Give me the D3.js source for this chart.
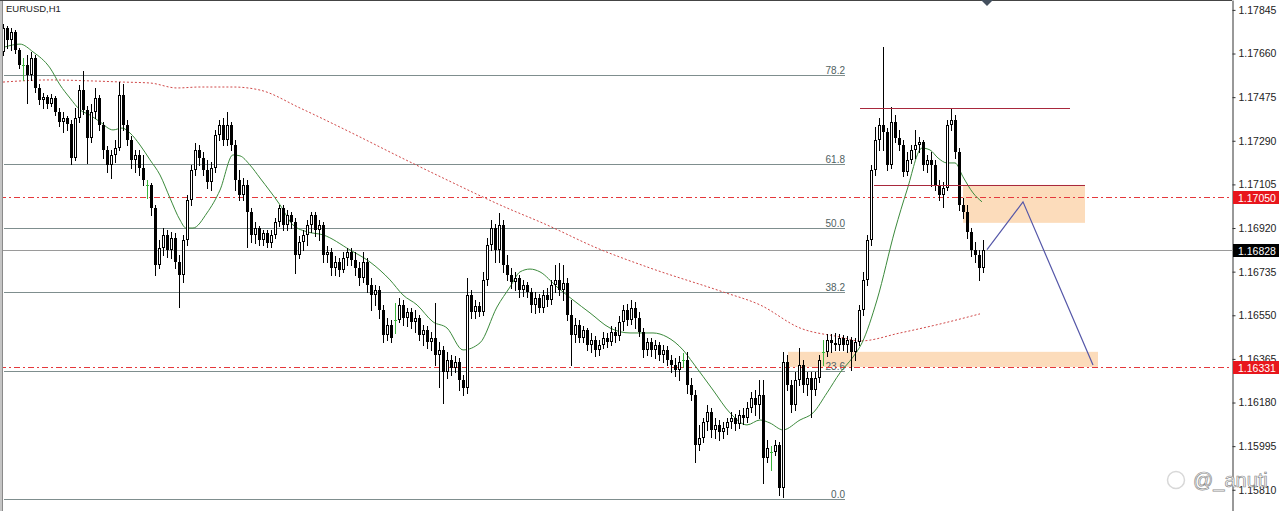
<!DOCTYPE html>
<html>
<head>
<meta charset="utf-8">
<script src="https://cdn.jsdelivr.net/npm/d3@7"></script>
<style>
  html, body { margin: 0; padding: 0; background: #fff; }
  svg { display: block; font-family: "Liberation Sans", Arial, sans-serif; }
</style>
</head>
<body>
<div id="chart"></div>
<script>
// EURUSD H1 candles (one row = 10 bars)
const opens = [
  1.17667,1.17768,1.17717,1.17751,1.17675,1.17611,1.17611,1.17569,1.17641,1.17514,
  1.17463,1.17476,1.17446,1.17471,1.17412,1.17370,1.17387,1.17361,1.17217,1.17387,
  1.17505,1.17421,1.17302,1.17412,1.17471,1.17357,1.17251,1.17187,1.17230,1.17259,
  1.17484,1.17357,1.17293,1.17209,1.17230,1.17175,1.17103,1.17103,1.17005,1.16763,
  1.16835,1.16891,1.16827,1.16878,1.16776,1.16721,1.16869,1.17039,1.17166,1.17251,
  1.17217,1.17166,1.17115,1.17175,1.17315,1.17357,1.17293,1.17357,1.17272,1.17124,
  1.17060,1.17103,1.16988,1.16891,1.16920,1.16869,1.16899,1.16857,1.16891,1.16946,
  1.17005,1.16933,1.16975,1.16946,1.16806,1.16861,1.16891,1.16933,1.16975,1.16912,
  1.16933,1.16806,1.16819,1.16751,1.16776,1.16742,1.16793,1.16819,1.16785,1.16751,
  1.16708,1.16776,1.16679,1.16636,1.16657,1.16573,1.16467,1.16509,1.16530,1.16530,
  1.16594,1.16539,1.16564,1.16522,1.16539,1.16467,1.16488,1.16437,1.16454,1.16382,
  1.16403,1.16310,1.16361,1.16327,1.16352,1.16276,1.16242,1.16636,1.16564,1.16590,
  1.16564,1.16700,1.16848,1.16920,1.16827,1.16933,1.16763,1.16721,1.16691,1.16708,
  1.16657,1.16679,1.16649,1.16594,1.16623,1.16581,1.16636,1.16615,1.16679,1.16700,
  1.16657,1.16687,1.16551,1.16467,1.16509,1.16454,1.16488,1.16424,1.16445,1.16403,
  1.16424,1.16454,1.16437,1.16479,1.16462,1.16522,1.16573,1.16530,1.16581,1.16539,
  1.16479,1.16403,1.16437,1.16403,1.16424,1.16382,1.16403,1.16361,1.16339,1.16318,
  1.16361,1.16361,1.16255,1.16212,1.16000,1.16030,1.16098,1.16140,1.16064,1.16085,
  1.16055,1.16072,1.16098,1.16115,1.16089,1.16127,1.16115,1.16157,1.16199,1.16170,
  1.16212,1.15945,1.15971,1.15971,1.16000,1.15818,1.16352,1.16255,1.16170,1.16276,
  1.16339,1.16255,1.16284,1.16233,1.16284,1.16395,1.16395,1.16445,1.16433,1.16424,
  1.16454,1.16424,1.16445,1.16395,1.16437,1.16573,1.16700,1.16869,1.17166,1.17293,
  1.17357,1.17327,1.17187,1.17370,1.17302,1.17272,1.17158,1.17209,1.17251,1.17272,
  1.17285,1.17187,1.17209,1.17187,1.17103,1.17060,1.17090,1.17357,1.17378,1.17243,
  1.17018,1.16988,1.16903,1.16827,1.16806,1.16751
];
const highs = [
  1.17785,1.17777,1.17768,1.17760,1.17683,1.17641,1.17654,1.17667,1.17654,1.17531,
  1.17493,1.17484,1.17488,1.17480,1.17429,1.17412,1.17395,1.17378,1.17429,1.17527,
  1.17586,1.17438,1.17446,1.17514,1.17484,1.17370,1.17268,1.17251,1.17293,1.17539,
  1.17531,1.17378,1.17310,1.17251,1.17251,1.17230,1.17124,1.17110,1.17018,1.16869,
  1.16920,1.16912,1.16903,1.16899,1.16806,1.16891,1.17060,1.17187,1.17281,1.17272,
  1.17243,1.17209,1.17200,1.17336,1.17378,1.17387,1.17412,1.17370,1.17293,1.17166,
  1.17132,1.17124,1.17005,1.16946,1.16929,1.16912,1.16912,1.16912,1.16963,1.17018,
  1.17018,1.16997,1.16988,1.16963,1.16886,1.16912,1.16954,1.16988,1.16988,1.16954,
  1.16946,1.16844,1.16835,1.16802,1.16793,1.16819,1.16835,1.16835,1.16819,1.16776,
  1.16819,1.16793,1.16708,1.16679,1.16674,1.16594,1.16539,1.16530,1.16602,1.16623,
  1.16615,1.16581,1.16581,1.16573,1.16551,1.16509,1.16505,1.16479,1.16602,1.16437,
  1.16420,1.16395,1.16382,1.16378,1.16369,1.16297,1.16708,1.16657,1.16615,1.16607,
  1.16734,1.16878,1.16954,1.16937,1.16984,1.16954,1.16806,1.16751,1.16734,1.16721,
  1.16700,1.16691,1.16666,1.16649,1.16640,1.16657,1.16666,1.16700,1.16763,1.16772,
  1.16763,1.16708,1.16615,1.16539,1.16530,1.16505,1.16496,1.16475,1.16462,1.16445,
  1.16479,1.16475,1.16505,1.16501,1.16547,1.16594,1.16598,1.16615,1.16607,1.16564,
  1.16496,1.16454,1.16454,1.16445,1.16437,1.16424,1.16420,1.16382,1.16369,1.16378,
  1.16390,1.16395,1.16284,1.16233,1.16085,1.16115,1.16170,1.16157,1.16115,1.16106,
  1.16098,1.16115,1.16140,1.16132,1.16149,1.16157,1.16183,1.16225,1.16233,1.16276,
  1.16276,1.16021,1.15996,1.16021,1.16013,1.16395,1.16382,1.16276,1.16310,1.16411,
  1.16361,1.16310,1.16310,1.16310,1.16382,1.16445,1.16471,1.16471,1.16475,1.16471,
  1.16467,1.16462,1.16458,1.16454,1.16594,1.16734,1.16891,1.17187,1.17349,1.17387,
  1.17688,1.17344,1.17433,1.17399,1.17336,1.17293,1.17243,1.17272,1.17336,1.17306,
  1.17293,1.17230,1.17243,1.17209,1.17124,1.17115,1.17378,1.17429,1.17399,1.17259,
  1.17047,1.17018,1.16920,1.16861,1.16827,1.16869
];
const lows = [
  1.17654,1.17683,1.17675,1.17662,1.17599,1.17548,1.17450,1.17548,1.17497,1.17446,
  1.17429,1.17429,1.17438,1.17399,1.17353,1.17327,1.17336,1.17192,1.17209,1.17370,
  1.17404,1.17196,1.17285,1.17387,1.17336,1.17217,1.17158,1.17132,1.17200,1.17251,
  1.17336,1.17272,1.17175,1.17158,1.17145,1.17103,1.17047,1.16975,1.16721,1.16751,
  1.16806,1.16797,1.16793,1.16751,1.16585,1.16691,1.16848,1.17018,1.17145,1.17187,
  1.17145,1.17090,1.17081,1.17158,1.17293,1.17272,1.17272,1.17251,1.17081,1.17039,
  1.17039,1.16840,1.16861,1.16857,1.16848,1.16848,1.16840,1.16840,1.16878,1.16929,
  1.16912,1.16912,1.16920,1.16729,1.16793,1.16827,1.16848,1.16903,1.16886,1.16869,
  1.16776,1.16776,1.16721,1.16721,1.16717,1.16734,1.16763,1.16763,1.16721,1.16679,
  1.16691,1.16649,1.16573,1.16594,1.16539,1.16437,1.16445,1.16437,1.16475,1.16522,
  1.16509,1.16505,1.16496,1.16479,1.16445,1.16424,1.16411,1.16403,1.16339,1.16246,
  1.16178,1.16284,1.16297,1.16310,1.16233,1.16212,1.16221,1.16539,1.16539,1.16547,
  1.16551,1.16679,1.16827,1.16776,1.16776,1.16734,1.16700,1.16666,1.16657,1.16628,
  1.16632,1.16628,1.16564,1.16560,1.16564,1.16564,1.16590,1.16598,1.16649,1.16636,
  1.16615,1.16530,1.16339,1.16437,1.16437,1.16437,1.16403,1.16395,1.16378,1.16382,
  1.16411,1.16416,1.16424,1.16437,1.16445,1.16488,1.16509,1.16513,1.16496,1.16462,
  1.16373,1.16382,1.16378,1.16369,1.16361,1.16352,1.16339,1.16310,1.16293,1.16276,
  1.16331,1.16221,1.16191,1.15928,1.15979,1.16013,1.16064,1.16034,1.16030,1.16021,
  1.16030,1.16047,1.16072,1.16064,1.16072,1.16089,1.16098,1.16140,1.16127,1.16115,
  1.15839,1.15928,1.15894,1.15958,1.15788,1.15780,1.16233,1.16140,1.16149,1.16255,
  1.16225,1.16212,1.16119,1.16212,1.16267,1.16339,1.16378,1.16395,1.16403,1.16403,
  1.16403,1.16395,1.16318,1.16361,1.16424,1.16551,1.16679,1.16848,1.17145,1.17251,
  1.17251,1.17166,1.17175,1.17285,1.17251,1.17141,1.17145,1.17196,1.17217,1.17243,
  1.17166,1.17158,1.17098,1.17081,1.17039,1.17009,1.17081,1.17336,1.17217,1.16997,
  1.16963,1.16878,1.16802,1.16776,1.16700,1.16734
];
const closes = [
  1.17768,1.17717,1.17751,1.17675,1.17611,1.17611,1.17569,1.17641,1.17514,1.17463,
  1.17476,1.17446,1.17471,1.17412,1.17370,1.17387,1.17361,1.17217,1.17387,1.17505,
  1.17421,1.17302,1.17412,1.17471,1.17357,1.17251,1.17187,1.17230,1.17259,1.17484,
  1.17357,1.17293,1.17209,1.17230,1.17175,1.17124,1.17103,1.17005,1.16763,1.16835,
  1.16891,1.16827,1.16878,1.16776,1.16721,1.16869,1.17039,1.17166,1.17251,1.17217,
  1.17166,1.17115,1.17175,1.17315,1.17357,1.17293,1.17357,1.17272,1.17124,1.17060,
  1.17103,1.16988,1.16891,1.16920,1.16869,1.16899,1.16857,1.16891,1.16946,1.17005,
  1.16933,1.16975,1.16946,1.16806,1.16861,1.16891,1.16933,1.16975,1.16912,1.16933,
  1.16806,1.16819,1.16751,1.16776,1.16742,1.16793,1.16819,1.16785,1.16751,1.16708,
  1.16776,1.16679,1.16636,1.16657,1.16573,1.16467,1.16509,1.16454,1.16530,1.16594,
  1.16539,1.16564,1.16522,1.16539,1.16467,1.16488,1.16437,1.16454,1.16382,1.16403,
  1.16310,1.16361,1.16327,1.16352,1.16276,1.16242,1.16636,1.16564,1.16590,1.16564,
  1.16700,1.16848,1.16920,1.16827,1.16933,1.16763,1.16721,1.16691,1.16708,1.16657,
  1.16679,1.16649,1.16594,1.16623,1.16581,1.16636,1.16615,1.16679,1.16700,1.16657,
  1.16687,1.16551,1.16467,1.16509,1.16454,1.16488,1.16424,1.16445,1.16403,1.16424,
  1.16454,1.16437,1.16479,1.16462,1.16522,1.16573,1.16530,1.16581,1.16539,1.16479,
  1.16403,1.16437,1.16403,1.16424,1.16382,1.16403,1.16361,1.16339,1.16318,1.16352,
  1.16361,1.16255,1.16212,1.16000,1.16030,1.16098,1.16140,1.16064,1.16085,1.16055,
  1.16072,1.16098,1.16115,1.16089,1.16127,1.16115,1.16157,1.16199,1.16170,1.16212,
  1.15945,1.15987,1.15971,1.16000,1.15818,1.16352,1.16255,1.16170,1.16276,1.16339,
  1.16255,1.16284,1.16233,1.16284,1.16361,1.16395,1.16445,1.16433,1.16424,1.16454,
  1.16424,1.16445,1.16395,1.16437,1.16573,1.16700,1.16869,1.17166,1.17293,1.17357,
  1.17327,1.17187,1.17370,1.17302,1.17272,1.17158,1.17209,1.17251,1.17272,1.17285,
  1.17187,1.17209,1.17187,1.17103,1.17060,1.17090,1.17357,1.17378,1.17243,1.17018,
  1.16988,1.16903,1.16827,1.16806,1.16751,1.16828
];

// moving averages: [bar index, price]
const maFast = [
  [0.5,1.17688],[4.25,1.17700],[7.5,1.17667],[11.75,1.17599],[14.25,1.17527],[16.75,1.17471],
  [19.25,1.17421],[21.75,1.17399],[24.25,1.17370],[27.5,1.17336],[29.75,1.17344],[31.75,1.17323],
  [34.25,1.17272],[36.75,1.17209],[39.25,1.17145],[41.75,1.17047],[44.25,1.16954],[45.75,1.16920],
  [47.5,1.16920],[51,1.16984],[54.25,1.17081],[57.5,1.17230],[59.25,1.17226],[61.75,1.17187],
  [64.25,1.17132],[69.25,1.17018],[72.5,1.16933],[76.25,1.16903],[80,1.16891],[86.75,1.16827],
  [91.75,1.16776],[96.75,1.16700],[100,1.16636],[103.5,1.16594],[107.5,1.16522],[111,1.16496],
  [115,1.16403],[119.25,1.16433],[123.5,1.16585],[126.75,1.16670],[129.25,1.16734],[131.75,1.16746],
  [134.25,1.16734],[138.5,1.16670],[142.5,1.16615],[146.75,1.16560],[151.75,1.16496],[156.75,1.16475],
  [162.5,1.16475],[166,1.16458],[170,1.16403],[172.5,1.16348],[177.5,1.16233],[181.75,1.16136],
  [186,1.16085],[189.25,1.16106],[191.75,1.16093],[195,1.16064],[199.25,1.16106],[202.5,1.16136],
  [206,1.16221],[209.25,1.16306],[212.5,1.16373],[214.75,1.16433],[218.5,1.16615],[223,1.16912],
  [226,1.17081],[229.75,1.17259],[231.75,1.17251],[233.75,1.17217],[236,1.17196],[238,1.17196],
  [240,1.17137],[242.5,1.17069],[244.75,1.17031]
];
const maSlow = [
  [0,1.17539],[11.75,1.17548],[21.75,1.17544],[30,1.17539],[36.75,1.17535],[43.5,1.17514],
  [49.25,1.17518],[57.5,1.17518],[64.25,1.17505],[74.25,1.17429],[86.75,1.17327],[99.25,1.17221],
  [111,1.17124],[124.25,1.17018],[136,1.16933],[148.5,1.16835],[161,1.16755],[180,1.16649],
  [189.25,1.16594],[199.25,1.16496],[209.25,1.16458],[214.25,1.16441],[224.25,1.16475],
  [234.25,1.16513],[244.25,1.16556]
];

// price axis
const priceTicks = [1.17845,1.17660,1.17475,1.17290,1.17105,1.16920,1.16735,1.16550,1.16365,1.16180,1.15995,1.15810];
const priceRange = [1.15720, 1.17887];

// fibonacci retracement
const fibLevels = [0, 23.6, 38.2, 50.0, 61.8, 78.2];
const fibRange = [1.15771, 1.18069];
const fibBars = [0.25, 210.5];

// horizontal levels + price tags
const tagPrices = [1.17050, 1.16828, 1.16331];
const tagKinds = ["red", "last", "red"];

// drawn objects (bar index / price)
const zones = [
  {from: 240, to: 270.5, top: 1.17103, bottom: 1.16942},
  {from: 196.25, to: 273.75, top: 1.16395, bottom: 1.16331}
];
const resistLines = [
  {from: 214.25, to: 266.75, price: 1.17429},
  {from: 217.75, to: 270.5, price: 1.17103}
];
const projection = [[246, 1.16828], [255, 1.17031], [272.5, 1.16339]];

const width = 1280, height = 511, axisX = 1232;

const svg = d3.select("#chart").append("svg")
  .attr("width", width)
  .attr("height", height);

svg.append("rect").attr("width", width).attr("height", height).attr("fill", "#fff");

const x = d3.scaleLinear().domain([0, closes.length - 1]).range([3, 983]);
const y = d3.scaleLinear().domain(priceRange).range([height, 0]);

svg.append("clipPath").attr("id", "plot")
  .append("rect").attr("x", 0).attr("y", 0).attr("width", axisX).attr("height", height);
const plot = svg.append("g").attr("clip-path", "url(#plot)");

// zones
plot.selectAll("rect.zone")
  .data(zones)
  .join("rect")
    .attr("class", "zone")
    .attr("x", d => x(d.from))
    .attr("width", d => x(d.to) - x(d.from))
    .attr("y", d => y(d.top))
    .attr("height", d => y(d.bottom) - y(d.top))
    .attr("fill", "#fcdcbb");

// fibo lines
const fibPrice = lvl => fibRange[0] + (fibRange[1] - fibRange[0]) * lvl / 100;
const fibG = plot.append("g");
fibG.selectAll("line")
  .data(fibLevels)
  .join("line")
    .attr("x1", x(fibBars[0])).attr("x2", x(fibBars[1]))
    .attr("y1", d => Math.round(y(fibPrice(d))) + 0.5)
    .attr("y2", d => Math.round(y(fibPrice(d))) + 0.5)
    .attr("stroke", "#7f8e8e")
    .attr("stroke-width", 1);
fibG.selectAll("text")
  .data(fibLevels)
  .join("text")
    .attr("x", x(fibBars[1]))
    .attr("y", d => Math.round(y(fibPrice(d))) - 1.5)
    .attr("text-anchor", "end")
    .style("font-size", "10px")
    .style("fill", "#506262")
    .text(d => d.toFixed(1));

// current price line
plot.append("line")
  .attr("x1", 0).attr("x2", axisX)
  .attr("y1", Math.round(y(tagPrices[1])) + 0.5)
  .attr("y2", Math.round(y(tagPrices[1])) + 0.5)
  .attr("stroke", "#9a9a9a");

// red dash-dot levels
plot.selectAll("line.lvl")
  .data(tagPrices.filter((p, i) => tagKinds[i] === "red"))
  .join("line")
    .attr("class", "lvl")
    .attr("x1", 0).attr("x2", axisX)
    .attr("y1", d => Math.round(y(d)) + 0.5)
    .attr("y2", d => Math.round(y(d)) + 0.5)
    .attr("stroke", "#e5393c")
    .attr("stroke-dasharray", "6,3,2,3");

// moving averages
const maLine = d3.line().x(d => x(d[0])).y(d => y(d[1])).curve(d3.curveMonotoneX);
plot.append("path").datum(maSlow)
  .attr("d", maLine)
  .attr("fill", "none")
  .attr("stroke", "#d04848")
  .attr("stroke-width", 1)
  .attr("stroke-dasharray", "2,2");
plot.append("path").datum(maFast)
  .attr("d", maLine)
  .attr("fill", "none")
  .attr("stroke", "#3c8a3c")
  .attr("stroke-width", 1);

// candles
const bars = d3.range(closes.length).map(i => ({i, o: opens[i], h: highs[i], l: lows[i], c: closes[i]}));
const cg = plot.append("g").attr("shape-rendering", "crispEdges");
const cx = d => Math.round(x(d.i));

cg.selectAll("line.wick")
  .data(bars)
  .join("line")
    .attr("class", "wick")
    .attr("x1", d => cx(d) + 0.5).attr("x2", d => cx(d) + 0.5)
    .attr("y1", d => Math.round(y(d.h)))
    .attr("y2", d => Math.round(y(d.l)) + 1)
    .attr("stroke", d => d.o === d.c ? "#3cb43c" : "#000");

// bearish: solid black
cg.selectAll("rect.bear")
  .data(bars.filter(d => d.c < d.o))
  .join("rect")
    .attr("class", "bear")
    .attr("x", d => cx(d) - 1)
    .attr("width", 3)
    .attr("y", d => Math.round(y(d.o)))
    .attr("height", d => Math.max(1, Math.round(y(d.c)) - Math.round(y(d.o))))
    .attr("fill", "#000");

// bullish: white body, black outline
cg.selectAll("rect.bull")
  .data(bars.filter(d => d.c > d.o))
  .join("rect")
    .attr("class", "bull")
    .attr("x", d => cx(d) - 0.5)
    .attr("width", 2)
    .attr("y", d => Math.round(y(d.c)) + 0.5)
    .attr("height", d => Math.max(0, Math.round(y(d.o)) - Math.round(y(d.c)) - 1))
    .attr("fill", "#fff")
    .attr("stroke", "#000");

// doji tick
cg.selectAll("line.doji")
  .data(bars.filter(d => d.c === d.o))
  .join("line")
    .attr("class", "doji")
    .attr("x1", d => cx(d) - 1).attr("x2", d => cx(d) + 2)
    .attr("y1", d => Math.round(y(d.o)) + 0.5)
    .attr("y2", d => Math.round(y(d.o)) + 0.5)
    .attr("stroke", "#3cb43c");

// resistance lines
plot.selectAll("line.res")
  .data(resistLines)
  .join("line")
    .attr("class", "res")
    .attr("x1", d => x(d.from)).attr("x2", d => x(d.to))
    .attr("y1", d => Math.round(y(d.price)) + 0.5)
    .attr("y2", d => Math.round(y(d.price)) + 0.5)
    .attr("stroke", "#a8283c");

// projected path
plot.append("path").datum(projection)
  .attr("d", d3.line().x(d => x(d[0])).y(d => y(d[1])))
  .attr("fill", "none")
  .attr("stroke", "#5557a8")
  .attr("stroke-width", 1.2);

// borders
svg.append("rect").attr("x", 0).attr("y", 0).attr("width", 3).attr("height", height).attr("fill", "#c4c4c4");
svg.append("line").attr("x1", 2.5).attr("x2", 2.5).attr("y1", 0).attr("y2", height).attr("stroke", "#8a8a8a");
svg.append("line").attr("x1", 0).attr("x2", axisX).attr("y1", 0.5).attr("y2", 0.5).attr("stroke", "#444");

// price axis
const axisG = svg.append("g")
  .attr("transform", `translate(${axisX + 0.5},0)`)
  .call(d3.axisRight(y).tickValues(priceTicks).tickSize(3).tickSizeOuter(0).tickFormat(d3.format(".5f")));
axisG.select(".domain").attr("stroke", "#333");
axisG.selectAll(".tick line").attr("stroke", "#333");
axisG.selectAll(".tick text")
  .attr("x", 6)
  .style("font-size", "10.5px")
  .style("font-family", "'Liberation Sans', Arial, sans-serif")
  .style("fill", "#222");

// price tags
const tags = svg.append("g");
tags.selectAll("rect")
  .data(tagPrices)
  .join("rect")
    .attr("x", axisX + 1)
    .attr("y", d => Math.round(y(d)) - 6)
    .attr("width", 46)
    .attr("height", 13)
    .attr("fill", (d, i) => tagKinds[i] === "red" ? "#e8161c" : "#000");
tags.selectAll("text")
  .data(tagPrices)
  .join("text")
    .attr("x", axisX + 6)
    .attr("y", d => Math.round(y(d)) + 4.5)
    .style("font-size", "10.5px")
    .style("fill", "#fff")
    .text(d => d.toFixed(5));

// title
svg.append("text")
  .attr("x", 6).attr("y", 12)
  .style("font-size", "9.5px")
  .style("fill", "#222")
  .text("EURUSD,H1");

// chart shift marker
svg.append("path")
  .attr("d", "M981,0 L993,0 L987,6 Z")
  .attr("fill", "#44505e");

// watermark
svg.append("circle")
  .attr("cx", 1176).attr("cy", 480).attr("r", 8.5)
  .attr("fill", "none").attr("stroke", "#d8d8d8").attr("stroke-width", 1.5);
svg.append("text")
  .attr("x", 1193).attr("y", 487)
  .style("font-size", "20px")
  .style("fill", "#fff")
  .style("stroke", "#8c8c8c")
  .style("stroke-width", "0.7px")
  .text("@_anuti");
</script>
</body>
</html>
